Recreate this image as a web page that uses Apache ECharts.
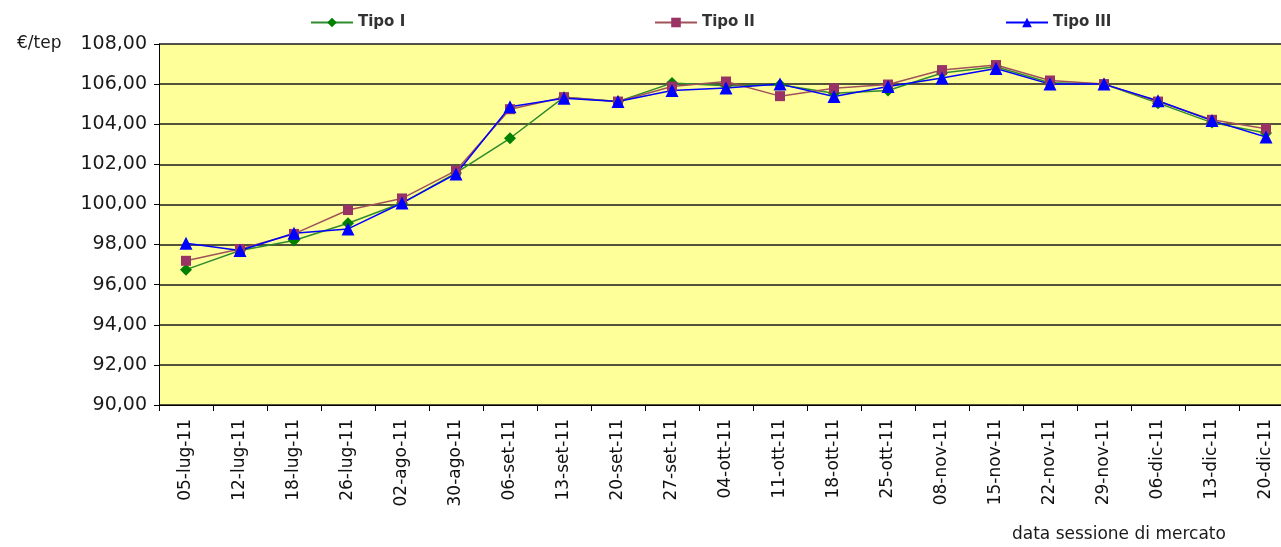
<!DOCTYPE html>
<html>
<head>
<meta charset="utf-8">
<script src="https://cdn.jsdelivr.net/npm/echarts@6/dist/echarts.min.js"></script>
<style>
html,body{margin:0;padding:0;background:#fff;overflow:hidden;width:1281px;height:547px;}
#chart{width:1300px;height:547px;}
</style>
</head>
<body>
<div id="chart"></div>
<script>
const categories = ['05-lug-11','12-lug-11','18-lug-11','26-lug-11','02-ago-11','30-ago-11','06-set-11','13-set-11','20-set-11','27-set-11','04-ott-11','11-ott-11','18-ott-11','25-ott-11','08-nov-11','15-nov-11','22-nov-11','29-nov-11','06-dic-11','13-dic-11','20-dic-11'];
const tipoI   = [96.75, 97.70, 98.20, 99.06, 100.07, 101.57, 103.30, 105.35, 105.13, 106.05, 105.92, 105.97, 105.55, 105.68, 106.55, 106.87, 106.07, 106.00, 105.05, 104.08, 103.56];
const tipoII  = [97.19, 97.78, 98.53, 99.72, 100.30, 101.69, 104.75, 105.35, 105.13, 105.88, 106.13, 105.40, 105.79, 105.98, 106.70, 106.95, 106.18, 106.00, 105.13, 104.22, 103.77];
const tipoIII = [98.07, 97.70, 98.56, 98.78, 100.07, 101.52, 104.87, 105.30, 105.13, 105.68, 105.80, 106.00, 105.38, 105.88, 106.30, 106.78, 106.00, 106.00, 105.17, 104.18, 103.36];
const seriesNames = ['Tipo I', 'Tipo II', 'Tipo III'];
const yUnit = '€/tep';
const xTitle = 'data sessione di mercato';

const chart = echarts.init(document.getElementById('chart'), null, {renderer: 'canvas'});
const legendStyle = {fontFamily: 'DejaVu Sans', fontSize: 15, fontWeight: 'bold', color: '#333'};
function legend(name, left) {
  return {data: [name], left: left, top: 10, itemWidth: 42, itemHeight: 12, itemGap: 0,
          textStyle: legendStyle, selectedMode: false};
}
chart.setOption({
  animation: false,
  backgroundColor: '#ffffff',
  legend: [legend(seriesNames[0], 305), legend(seriesNames[1], 649), legend(seriesNames[2], 1000)],
  grid: {left: 159, top: 44, width: 1134, height: 361, show: true, backgroundColor: '#ffff99', borderWidth: 0},
  xAxis: {
    type: 'category', data: categories, boundaryGap: true,
    axisLine: {lineStyle: {color: '#000', width: 1}},
    axisTick: {show: true, length: 6, lineStyle: {color: '#000'}},
    axisLabel: {rotate: 90, margin: 14, fontFamily: 'DejaVu Sans', fontSize: 17, color: '#111'}
  },
  yAxis: {
    type: 'value', min: 90, max: 108, interval: 2,
    axisLine: {show: true, lineStyle: {color: '#000', width: 1}},
    axisTick: {show: true, length: 5, lineStyle: {color: '#000'}},
    axisLabel: {margin: 12, fontFamily: 'DejaVu Sans', fontSize: 19, color: '#1a1a1a',
                formatter: v => v.toFixed(2).replace('.', ',')},
    splitLine: {show: true, lineStyle: {color: '#1a1a1a', width: 1.5}}
  },
  graphic: [
    {type: 'text', left: 17, top: 35, style: {text: yUnit, font: '17px "DejaVu Sans"', fill: '#1a1a1a'}},
    {type: 'text', left: 1012, top: 526, style: {text: xTitle, font: '17px "DejaVu Sans"', fill: '#1a1a1a'}}
  ],
  series: [
    {name: seriesNames[0], type: 'line', data: tipoI, symbol: 'diamond', symbolSize: 12,
     itemStyle: {color: '#008000'}, lineStyle: {color: '#2e8b2e', width: 1.5}},
    {name: seriesNames[1], type: 'line', data: tipoII, symbol: 'rect', symbolSize: 10,
     itemStyle: {color: '#993366'}, lineStyle: {color: '#a0525a', width: 1.5}},
    {name: seriesNames[2], type: 'line', data: tipoIII, symbol: 'triangle', symbolSize: 13,
     itemStyle: {color: '#0000ff'}, lineStyle: {color: '#0000ff', width: 1.5}}
  ]
});
</script>
</body>
</html>
